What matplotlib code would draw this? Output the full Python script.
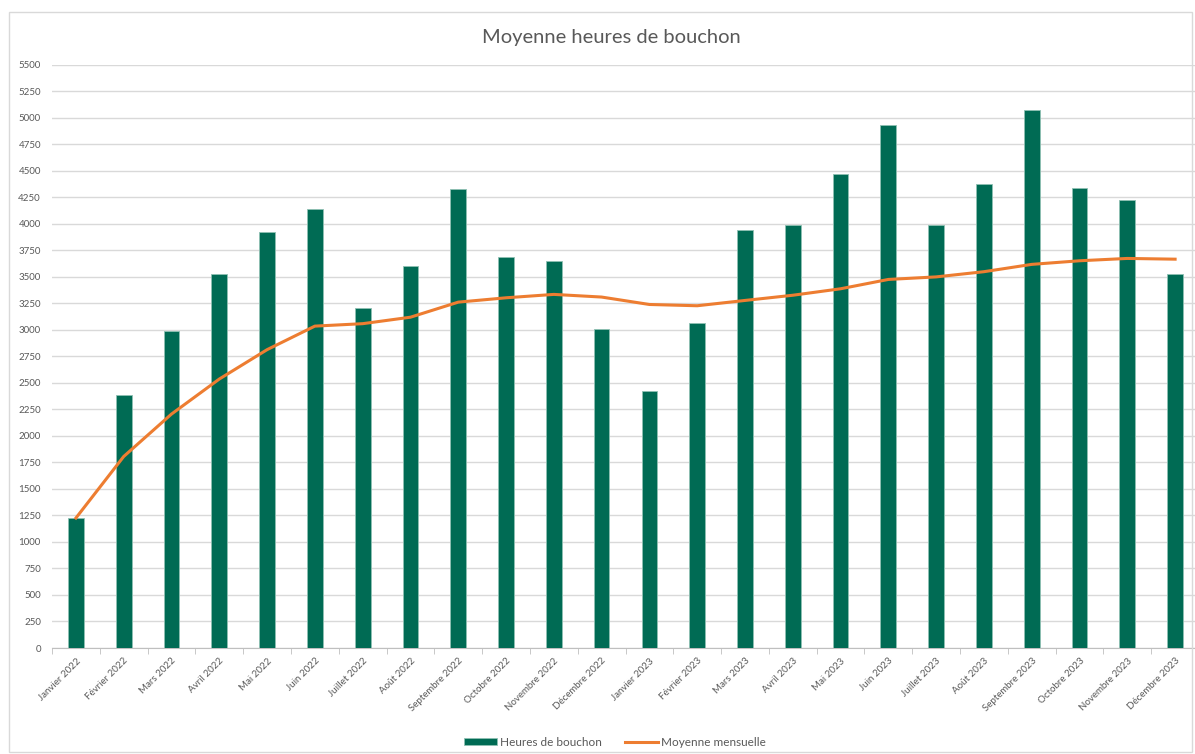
import matplotlib.pyplot as plt
import numpy as np
from matplotlib.patches import Rectangle

plt.rcParams['font.family'] = ['Lato', 'DejaVu Sans']

mois = ['Janvier 2022', 'Février 2022', 'Mars 2022', 'Avril 2022', 'Mai 2022', 'Juin 2022',
        'Juillet 2022', 'Août 2022', 'Septembre 2022', 'Octobre 2022', 'Novembre 2022', 'Décembre 2022',
        'Janvier 2023', 'Février 2023', 'Mars 2023', 'Avril 2023', 'Mai 2023', 'Juin 2023',
        'Juillet 2023', 'Août 2023', 'Septembre 2023', 'Octobre 2023', 'Novembre 2023', 'Décembre 2023']
heures = [1225, 2385, 2988, 3523, 3924, 4135, 3202, 3604, 4327, 3686, 3651, 3004,
          2422, 3060, 3937, 3984, 4468, 4927, 3984, 4374, 5071, 4339, 4220, 3523]
moyenne = [1225, 1805, 2205, 2535, 2812, 3034, 3057, 3118, 3260, 3301, 3333, 3308,
           3238, 3226, 3276, 3325, 3386, 3474, 3498, 3547, 3616, 3650, 3672, 3665]

vert = '#006B54'
orange = '#ED7D31'
gris = '#595959'

fig = plt.figure(figsize=(11.95, 7.54), dpi=100)
# cadre du graphique
fig.patches.append(Rectangle((9 / 1195, 2 / 754), 1183 / 1195, 740 / 754, transform=fig.transFigure,
                             fill=False, edgecolor='#D9D9D9', linewidth=1))
ax = fig.add_axes([52 / 1195, 106 / 754, 1147 / 1195, 583.5 / 754])

x = np.arange(len(mois))
barres = ax.bar(x, heures, width=0.33, color=vert, edgecolor='#8FC1B3', linewidth=0.6,
                label='Heures de bouchon', zorder=3)
ligne, = ax.plot(x, moyenne, color=orange, linewidth=2.2, label='Moyenne mensuelle', zorder=4)

ax.set_xlim(-0.5, len(mois) - 0.5)
ax.set_ylim(0, 5500)
ax.set_yticks(np.arange(0, 5501, 250))
ax.tick_params(axis='y', length=0, labelsize=7, labelcolor=gris, pad=8)
ax.yaxis.grid(True, color='#D9D9D9', linewidth=1, zorder=0)

ax.set_xticks(x)
ax.set_xticklabels(mois, rotation=45, ha='right', rotation_mode='anchor', fontsize=7, color=gris)
ax.set_xticks(np.arange(-0.5, len(mois), 1), minor=True)
ax.tick_params(axis='x', which='major', length=0, pad=6)
ax.tick_params(axis='x', which='minor', length=4, color='#BFBFBF', direction='out')

for s in ['top', 'right', 'left']:
    ax.spines[s].set_visible(False)
ax.spines['bottom'].set_color('#BFBFBF')

fig.text(611 / 1195, 1 - 37 / 754, 'Moyenne heures de bouchon', ha='center', va='center',
         fontsize=14.5, color=gris)

fig.legend([barres, ligne], ['Heures de bouchon', 'Moyenne mensuelle'],
           loc='center', bbox_to_anchor=(615 / 1195, 1 - 742 / 754), ncol=2, frameon=False,
           fontsize=8.5, labelcolor=gris, handlelength=2.8, handleheight=0.6, columnspacing=2,
           handletextpad=0.2)

fig.savefig('out.png', dpi=100)
